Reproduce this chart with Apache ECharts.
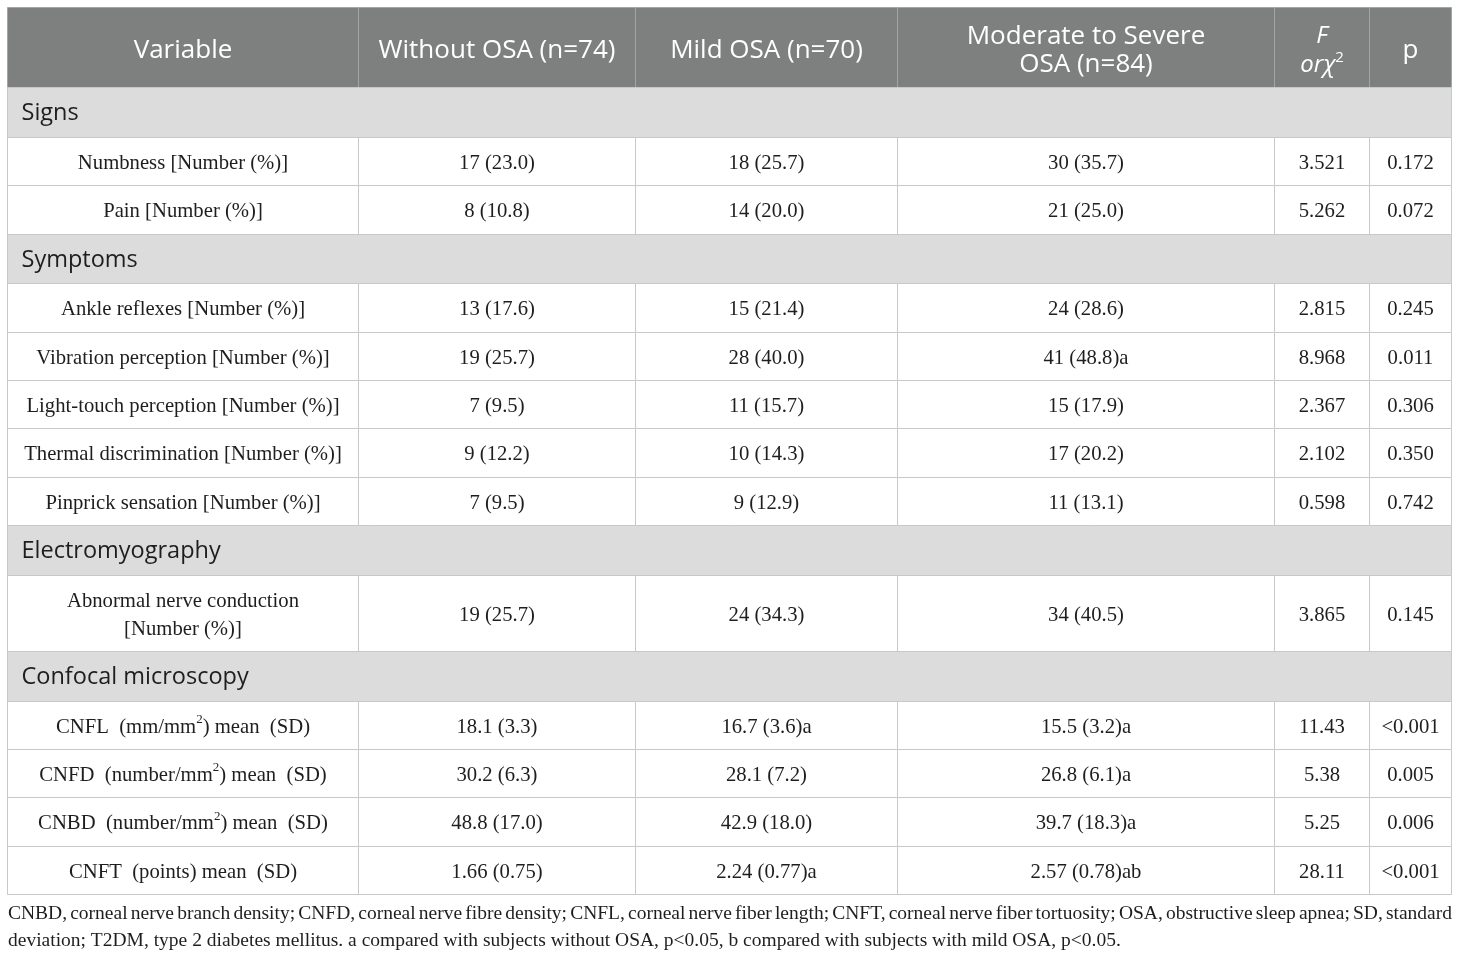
<!DOCTYPE html>
<html>
<head>
<meta charset="utf-8">
<script src="https://cdn.jsdelivr.net/npm/echarts@6/dist/echarts.min.js"></script>
<style>
html, body { margin: 0; padding: 0; background: #fff; }
#chart { width: 1460px; height: 957px; }
</style>
</head>
<body>
<div id="chart"></div>
<script>
// table content
var headers = ['Variable', 'Without OSA (n=74)', 'Mild OSA (n=70)', 'Moderate to Severe\nOSA (n=84)', '{it|F}\n{it|orχ}{hsup|2}', 'p'];
var sections = ['Signs', 'Symptoms', 'Electromyography', 'Confocal microscopy'];
var rowSection = [0, 0, 1, 1, 1, 1, 1, 2, 3, 3, 3, 3];
var variables = [
  'Numbness [Number (%)]',
  'Pain [Number (%)]',
  'Ankle reflexes [Number (%)]',
  'Vibration perception [Number (%)]',
  'Light-touch perception [Number (%)]',
  'Thermal discrimination [Number (%)]',
  'Pinprick sensation [Number (%)]',
  'Abnormal nerve conduction\n[Number (%)]',
  'CNFL  (mm/mm²) mean  (SD)',
  'CNFD  (number/mm²) mean  (SD)',
  'CNBD  (number/mm²) mean  (SD)',
  'CNFT  (points) mean  (SD)'
];
var withoutOSA = ['17 (23.0)', '8 (10.8)', '13 (17.6)', '19 (25.7)', '7 (9.5)', '9 (12.2)', '7 (9.5)', '19 (25.7)', '18.1 (3.3)', '30.2 (6.3)', '48.8 (17.0)', '1.66 (0.75)'];
var mildOSA = ['18 (25.7)', '14 (20.0)', '15 (21.4)', '28 (40.0)', '11 (15.7)', '10 (14.3)', '9 (12.9)', '24 (34.3)', '16.7 (3.6)a', '28.1 (7.2)', '42.9 (18.0)', '2.24 (0.77)a'];
var modSevereOSA = ['30 (35.7)', '21 (25.0)', '24 (28.6)', '41 (48.8)a', '15 (17.9)', '17 (20.2)', '11 (13.1)', '34 (40.5)', '15.5 (3.2)a', '26.8 (6.1)a', '39.7 (18.3)a', '2.57 (0.78)ab'];
var testStat = ['3.521', '5.262', '2.815', '8.968', '2.367', '2.102', '0.598', '3.865', '11.43', '5.38', '5.25', '28.11'];
var pValues = ['0.172', '0.072', '0.245', '0.011', '0.306', '0.350', '0.742', '0.145', '<0.001', '0.005', '0.006', '<0.001'];
var footnote = [
  'CNBD, corneal nerve branch density; CNFD, corneal nerve fibre density; CNFL, corneal nerve fiber length; CNFT, corneal nerve fiber tortuosity; OSA, obstructive sleep apnea; SD, standard',
  'deviation; T2DM, type 2 diabetes mellitus. a compared with subjects without OSA, p<0.05, b compared with subjects with mild OSA, p<0.05.'
];

// layout
var colWidths = [351, 277, 262, 377, 95, 82];
var H_HEAD = 80, H_SEC = 49.7, H_ROW = 48.4, H_TALL = 76;
var SANS = '"Open Sans", "Noto Sans", sans-serif';
var SERIF = '"Liberation Serif", "DejaVu Serif", serif';
var C_HEAD = '#7e807f', C_SEC = '#dcdcdc', C_LINE = '#c8c8c8', C_TEXT = '#1e1e1e';

var totalW = colWidths.reduce(function (s, w) { return s + w; }, 0);
var colEdges = [0];
colWidths.forEach(function (w) { colEdges.push(colEdges[colEdges.length - 1] + w); });

// row list: header, sections and data rows in order
var rows = [{ kind: 'head', h: H_HEAD }];
var lastSec = -1;
variables.forEach(function (v, i) {
  if (rowSection[i] !== lastSec) {
    lastSec = rowSection[i];
    rows.push({ kind: 'sec', idx: lastSec, h: H_SEC });
  }
  rows.push({ kind: 'row', idx: i, h: v.indexOf('\n') >= 0 ? H_TALL : H_ROW });
});
var rowTops = [0];
rows.forEach(function (r) { rowTops.push(rowTops[rowTops.length - 1] + r.h); });
var totalH = rowTops[rowTops.length - 1];

function supText(s) {
  return s.replace(/²/g, '{sup|2}');
}

function renderRow(params, api) {
  var k = api.value(0);
  var r = rows[k];
  var top = Math.round(rowTops[k]), bottom = Math.round(rowTops[k + 1]);
  var children = [];
  var p0 = api.coord([0, top]), p1 = api.coord([totalW, bottom]);
  var yMid = (p0[1] + p1[1]) / 2;

  if (r.kind === 'sec') {
    children.push({
      type: 'rect',
      shape: { x: p0[0], y: p0[1], width: p1[0] - p0[0], height: p1[1] - p0[1] },
      style: { fill: C_SEC, stroke: C_LINE, lineWidth: 1 }
    });
    children.push({
      type: 'text',
      style: {
        text: sections[r.idx], x: p0[0] + 14, y: yMid + 1,
        align: 'left', verticalAlign: 'middle',
        font: '23.5px ' + SANS, fill: C_TEXT
      }
    });
    return { type: 'group', children: children };
  }

  var cells;
  if (r.kind === 'head') {
    cells = headers;
  } else {
    var i = r.idx;
    cells = [supText(variables[i]), withoutOSA[i], mildOSA[i], modSevereOSA[i], testStat[i], pValues[i]];
  }

  for (var c = 0; c < colWidths.length; c++) {
    var a = api.coord([colEdges[c], top]);
    var b = api.coord([colEdges[c + 1], bottom]);
    children.push({
      type: 'rect',
      shape: { x: a[0], y: a[1], width: b[0] - a[0], height: b[1] - a[1] },
      style: r.kind === 'head'
        ? { fill: C_HEAD, stroke: '#a4a6a5', lineWidth: 1 }
        : { fill: '#fff', stroke: C_LINE, lineWidth: 1 }
    });
    var st;
    if (r.kind === 'head') {
      st = {
        text: cells[c], x: (a[0] + b[0]) / 2, y: yMid + 3,
        align: 'center', verticalAlign: 'middle',
        font: '26px ' + SANS, fill: '#fff', lineHeight: 28,
        rich: {
          it: { font: 'italic 24px ' + SANS, fill: '#fff', lineHeight: 29 },
          hsup: { font: '15px ' + SANS, fill: '#fff', verticalAlign: 'top', lineHeight: 14 }
        }
      };
    } else {
      st = {
        text: cells[c], x: (a[0] + b[0]) / 2, y: yMid + 2,
        align: 'center', verticalAlign: 'middle',
        font: '20.7px ' + SERIF, fill: C_TEXT, lineHeight: 28,
        rich: {
          sup: { font: '13px ' + SERIF, fill: C_TEXT, verticalAlign: 'top', lineHeight: 12 }
        }
      };
    }
    children.push({ type: 'text', style: st });
  }
  return { type: 'group', children: children };
}

// justified footnote lines as graphic text
var FOOT_FONT = '19.5px ' + SERIF;
var measureCtx = document.createElement('canvas').getContext('2d');
measureCtx.font = FOOT_FONT;
var graphics = [];
var footY = [914, 941];
footnote.forEach(function (line, li) {
  if (li === footnote.length - 1) {
    graphics.push({
      type: 'text', x: 8, y: footY[li],
      style: { text: line, font: FOOT_FONT, fill: C_TEXT, verticalAlign: 'middle' }
    });
    return;
  }
  var words = line.split(' ');
  var widths = words.map(function (w) { return measureCtx.measureText(w).width; });
  var sum = widths.reduce(function (s, w) { return s + w; }, 0);
  var gap = (totalW - sum) / (words.length - 1);
  var x = 8;
  words.forEach(function (w, wi) {
    graphics.push({
      type: 'text', x: x, y: footY[li],
      style: { text: w, font: FOOT_FONT, fill: C_TEXT, verticalAlign: 'middle' }
    });
    x += widths[wi] + gap;
  });
});

var chart = echarts.init(document.getElementById('chart'));
chart.setOption({
  animation: false,
  grid: { left: 7.5, top: 7.5, width: totalW, height: totalH },
  xAxis: { type: 'value', min: 0, max: totalW, show: false },
  yAxis: { type: 'value', min: 0, max: totalH, inverse: true, show: false },
  graphic: graphics,
  series: [{
    type: 'custom',
    clip: false,
    silent: true,
    renderItem: renderRow,
    data: rows.map(function (r, k) { return [k]; })
  }]
});
</script>
</body>
</html>
